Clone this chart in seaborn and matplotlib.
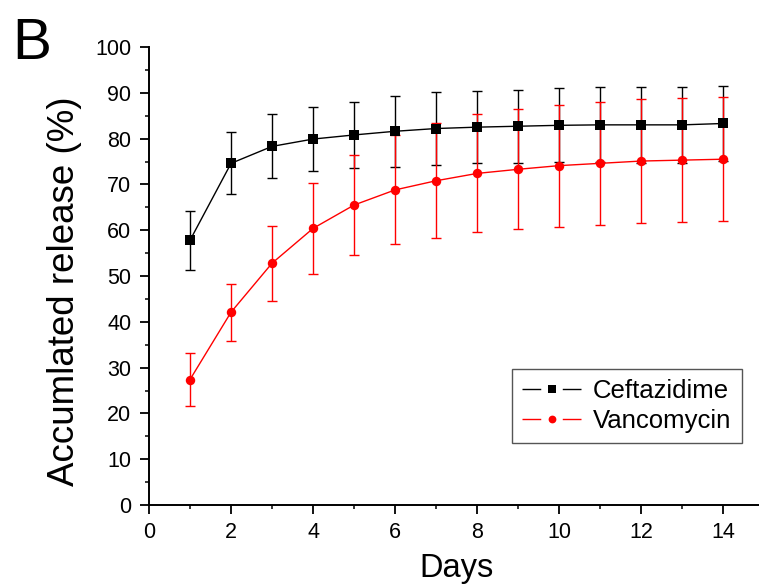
import matplotlib
matplotlib.use("Agg")
import matplotlib.pyplot as plt
from matplotlib.ticker import MultipleLocator
from matplotlib.lines import Line2D
import pandas as pd
import seaborn as sns

days = [1, 2, 3, 4, 5, 6, 7, 8, 9, 10, 11, 12, 13, 14]
ceftazidime = [57.8, 74.6, 78.3, 79.9, 80.8, 81.6, 82.2, 82.5, 82.7, 82.9, 83.0, 83.0, 83.0, 83.3]
ceftazidime_err = [6.5, 6.8, 7.0, 7.0, 7.3, 7.7, 7.9, 7.9, 8.0, 8.1, 8.2, 8.3, 8.3, 8.2]
vancomycin = [27.4, 42.1, 52.8, 60.4, 65.5, 68.8, 70.8, 72.4, 73.3, 74.1, 74.6, 75.1, 75.3, 75.5]
vancomycin_err = [5.7, 6.2, 8.2, 9.9, 11.0, 11.9, 12.5, 12.9, 13.1, 13.3, 13.5, 13.6, 13.6, 13.6]
drugs = ["Ceftazidime", "Vancomycin"]
colors = ["#000000", "#ff0000"]

df = pd.DataFrame({
    "Days": days * 2,
    "Release": ceftazidime + vancomycin,
    "Drug": [drugs[0]] * len(days) + [drugs[1]] * len(days),
})

sns.set_style("ticks")
plt.rcParams["font.family"] = ["Liberation Sans", "DejaVu Sans"]
for key in ["text.color", "axes.labelcolor", "xtick.color", "ytick.color",
            "axes.edgecolor"]:
    plt.rcParams[key] = "black"

W, H = 759, 588
fig = plt.figure(figsize=(W / 100, H / 100), dpi=100)
ax = fig.add_axes([149 / W, (H - 505) / H, (W - 149) / W, (505 - 47) / H])

palette = dict(zip(drugs, colors))
markers = {drugs[0]: "s", drugs[1]: "o"}

# error bars first, lines and markers on top
for name, vals, errs in [(drugs[0], ceftazidime, ceftazidime_err),
                         (drugs[1], vancomycin, vancomycin_err)]:
    ax.errorbar(days, vals, yerr=errs, fmt="none", ecolor=palette[name],
                elinewidth=1.0, capsize=3.6, capthick=1.0, zorder=2)

sns.lineplot(data=df, x="Days", y="Release", hue="Drug", style="Drug",
             palette=palette, markers=markers, dashes=False,
             markersize=6.8, markeredgewidth=0, linewidth=1.0,
             ax=ax, zorder=3, legend=False)

ax.set_xlim(0, 14.87)
ax.set_ylim(0, 100)
ax.xaxis.set_major_locator(MultipleLocator(2))
ax.xaxis.set_minor_locator(MultipleLocator(1))
ax.yaxis.set_major_locator(MultipleLocator(10))
ax.yaxis.set_minor_locator(MultipleLocator(5))
ax.tick_params(which="major", direction="out", length=6.3, width=1.3,
               labelsize=15.5, colors="black")
ax.tick_params(axis="y", which="major", pad=6.5)
ax.tick_params(axis="x", which="major", pad=6)
ax.tick_params(which="minor", direction="out", length=3, width=1.1)
for side in ["top", "right"]:
    ax.spines[side].set_visible(False)
for side in ["left", "bottom"]:
    ax.spines[side].set_linewidth(1.4)

ax.set_xlabel("Days", fontsize=23.5)
ax.set_ylabel("Accumlated release (%)", fontsize=26.5)
ax.xaxis.set_label_coords((456 - 149) / 610, (505 - 553) / 458)
ax.yaxis.set_label_coords((82 - 149) / 610, (505 - 291) / 458)

# legend handles: short dash, marker, short dash
handles = [
    Line2D([], [], color=c, marker=m, markersize=5.6, markeredgewidth=0,
           linewidth=1.0, linestyle=(0, (13.5, 15.5)))
    for c, m in zip(colors, ["s", "o"])
]
leg = ax.legend(handles, drugs, loc="lower left",
                bbox_to_anchor=((512 - 149) / 610, (505 - 443) / 458),
                borderaxespad=0, fontsize=18.5, frameon=True, fancybox=False,
                handlelength=2.3, numpoints=1, borderpad=0.4,
                labelspacing=0.22, handletextpad=0.45)
leg.get_frame().set_edgecolor("#555555")
leg.get_frame().set_linewidth(1.0)
leg.get_frame().set_alpha(1)

fig.text(12 / W, 1 - 59 / H, "B", fontsize=42, ha="left", va="baseline")

fig.savefig("out.png", dpi=100)
